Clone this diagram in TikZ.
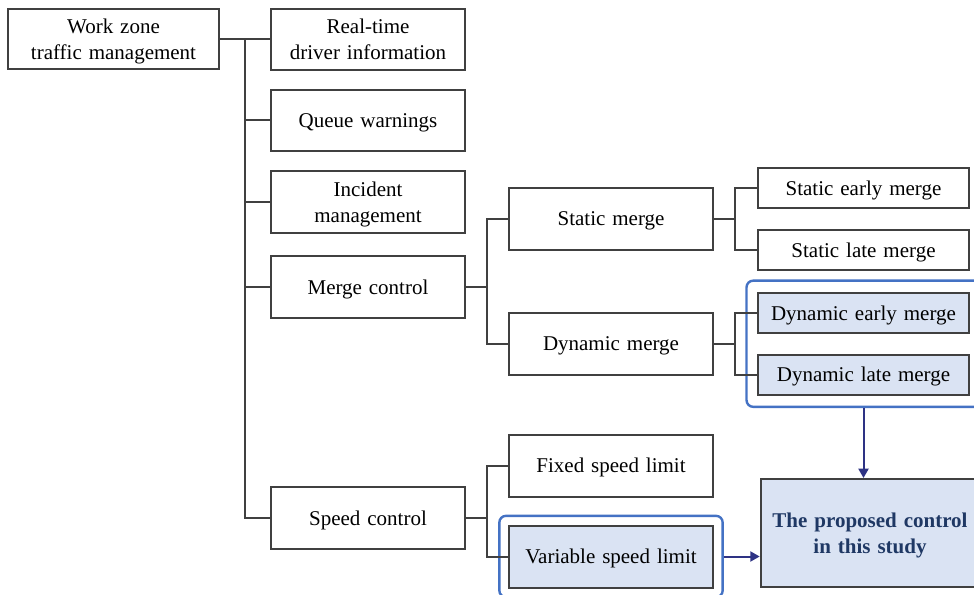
\documentclass[tikz,border=0pt]{standalone}
\usepackage{fontspec}
\setmainfont{Liberation Serif}
\usepackage{tikz}
\usetikzlibrary{fit,arrows.meta}

\definecolor{boxline}{HTML}{404040}
\definecolor{hlblue}{HTML}{4472C4}
\definecolor{hlfill}{HTML}{DAE3F3}
\definecolor{navy}{HTML}{2E3384}
\definecolor{textnavy}{HTML}{1F3864}

\newcommand\boxfont{\fontsize{15.75}{19.5}\selectfont\spaceskip 0.33em\relax}

\tikzset{
  box/.style={draw=boxline, line width=1.5pt, fill=white, align=center, inner sep=0pt,
    text depth=0pt, font=\boxfont},
  lvl0/.style={box, minimum width=158pt, minimum height=45pt},
  lvl1/.style={box, minimum width=145.5pt, minimum height=46pt},
  lvl2/.style={box, minimum width=153pt, minimum height=46.5pt},
  lvl3/.style={box, minimum width=158pt, minimum height=30pt},
  chosen/.style={fill=hlfill},
  tree/.style={draw=boxline, line width=1.5pt},
  hl/.style={draw=hlblue, line width=1.8pt, rounded corners=5pt},
  arr/.style={draw=navy, line width=1.5pt, -{Triangle[length=7pt,width=7.5pt]}}
}

\begin{document}
\begin{tikzpicture}[x=0.75pt,y=-0.75pt]
  \useasboundingbox (0,0) rectangle (974,595);
  \clip (0,0) rectangle (974,595);
  % Nodes
  \node[lvl0] (root) at (113.5,39) {Work zone\\traffic management};
  \node[lvl1] (rt) at (368,39.5) {Real-time\\driver information};
  \node[lvl1] (qw) at (368,120.5) {Queue warnings};
  \node[lvl1] (im) at (368,202) {Incident\\management};
  \node[lvl1] (mc) at (368,287) {Merge control};
  \node[lvl1] (sc) at (368,518) {Speed control};
  \node[lvl2] (sm) at (611,219) {Static merge};
  \node[lvl2] (dm) at (611,343.5) {Dynamic merge};
  \node[lvl2] (fs) at (611,465.5) {Fixed speed limit};
  \node[lvl2, chosen] (vs) at (611,556.5) {Variable speed limit};
  \node[lvl3] (se) at (863.5,188.5) {Static early merge};
  \node[lvl3] (sl) at (863.5,250) {Static late merge};
  \node[lvl3, chosen] (de) at (863.5,313) {Dynamic early merge};
  \node[lvl3, chosen] (dl) at (863.5,374.5) {Dynamic late merge};
  \node[box, chosen, minimum width=164pt, minimum height=81pt, text=textnavy,
    font=\boxfont\bfseries] (pc) at (870,533)
    {The proposed control\\in this study};
  % Highlight frames
  \node[hl, fit=(de)(dl), inner xsep=8pt, inner ysep=8.5pt] (dyngrp) {};
  \node[hl, fit=(vs), inner sep=6.5pt] (vargrp) {};
  % Tree lines
  \coordinate (t1) at (245,39);
  \coordinate (t2) at (487,287);
  \coordinate (t3) at (487,518);
  \coordinate (t4) at (735,219);
  \coordinate (t5) at (735,343.5);
  \draw[tree] (root.east) -- (t1);
  \foreach \n in {rt,qw,im,mc,sc}
    \draw[tree] (t1) |- (\n.west);
  \draw[tree] (mc.east) -- (t2);
  \draw[tree] (t2) |- (sm.west);
  \draw[tree] (t2) |- (dm.west);
  \draw[tree] (sc.east) -- (t3);
  \draw[tree] (t3) |- (fs.west);
  \draw[tree] (t3) |- (vs.west);
  \draw[tree] (sm.east) -- (t4);
  \draw[tree] (t4) |- (se.west);
  \draw[tree] (t4) |- (sl.west);
  \draw[tree] (dm.east) -- (t5);
  \draw[tree] (t5) |- (de.west);
  \draw[tree] (t5) |- (dl.west);
  % Arrows
  \draw[arr] (dyngrp.south) -- (dyngrp.south |- pc.north);
  \draw[arr] (vargrp.east) -- (vargrp.east -| pc.west);
\end{tikzpicture}
\end{document}
